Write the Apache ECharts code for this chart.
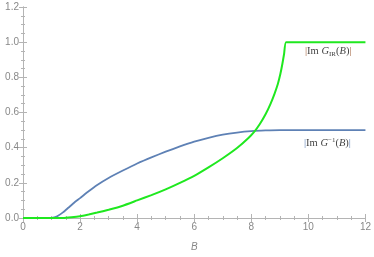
<!DOCTYPE html>
<html><head><meta charset="utf-8">
<script src="https://cdn.jsdelivr.net/npm/echarts@6/dist/echarts.min.js"></script>
<style>html,body{margin:0;padding:0;background:#fff}#c{width:374px;height:257px}</style>
</head><body><div id="c"></div>
<script>
const xTicks = [0, 2, 4, 6, 8, 10, 12];
const yTicks = [0.0, 0.2, 0.4, 0.6, 0.8, 1.0, 1.2];
const blueX = [0, 0.5, 1.0, 1.1, 1.2, 1.4, 1.6, 1.8, 2.0, 2.3, 2.6, 3.0, 3.5, 4.0, 4.5, 5.0, 5.5, 6.0, 6.5, 7.0, 7.5, 8.0, 8.5, 9.0, 10, 11, 12];
const blueY = [0, 0, 0, 0.003, 0.01, 0.032, 0.06, 0.088, 0.113, 0.152, 0.188, 0.228, 0.27, 0.31, 0.345, 0.377, 0.407, 0.434, 0.456, 0.474, 0.486, 0.494, 0.498, 0.5, 0.5, 0.5, 0.5];
const greenX = [0, 1.0, 1.4, 1.7, 2.0, 2.3, 2.6, 3.0, 3.5, 4.0, 4.5, 5.0, 5.5, 6.0, 6.5, 7.0, 7.5, 7.9, 8.1, 8.3, 8.5, 8.67, 8.81, 8.93, 9.02, 9.09, 9.15, 9.22, 10, 11, 12];
const greenY = [0, 0, 0, 0.004, 0.01, 0.02, 0.031, 0.047, 0.07, 0.1, 0.13, 0.163, 0.2, 0.24, 0.288, 0.34, 0.398, 0.455, 0.49, 0.535, 0.59, 0.648, 0.705, 0.762, 0.82, 0.877, 0.934, 1.0, 1.0, 1.0, 1.0];
const labelIR = '|Im G_IR(B)|';
const labelInv = '|Im G^-1(B)|';

const frame = '#b4b4b4';
const tickCol = '#888888';
const chart = echarts.init(document.getElementById('c'));
function axisCommon(showLabel, fmt) {
  return {
    axisLine: {show: true, lineStyle: {color: frame, width: 1}},
    axisTick: {show: true, inside: true, length: 4, lineStyle: {color: frame}},
    minorTick: {show: true, splitNumber: 4, length: 2, lineStyle: {color: frame}},
    splitLine: {show: false},
    axisLabel: {show: showLabel, color: tickCol, fontSize: 10, fontFamily: 'Liberation Sans', formatter: fmt, margin: 4}
  };
}
const xStep = xTicks[1] - xTicks[0];
const yStep = +(yTicks[1] - yTicks[0]).toFixed(2);
chart.setOption({
  animation: false,
  grid: {left: 23, right: 6, top: 7, bottom: 37},
  xAxis: [
    Object.assign({type: 'value', position: 'bottom', min: xTicks[0], max: xTicks[xTicks.length-1], interval: xStep,
      name: 'B', nameLocation: 'middle', nameGap: 24,
      nameTextStyle: {color: tickCol, fontStyle: 'italic', fontSize: 10, fontFamily: 'Liberation Sans'}},
      axisCommon(true, v => String(v))),
    Object.assign({type: 'value', position: 'top', min: xTicks[0], max: xTicks[xTicks.length-1], interval: xStep},
      axisCommon(false))
  ],
  yAxis: [
    Object.assign({type: 'value', position: 'left', min: yTicks[0], max: yTicks[yTicks.length-1], interval: yStep},
      axisCommon(true, v => v.toFixed(1))),
    Object.assign({type: 'value', position: 'right', min: yTicks[0], max: yTicks[yTicks.length-1], interval: yStep},
      axisCommon(false))
  ],
  series: [
    {type: 'line', name: labelInv, data: blueX.map((x, i) => [x, blueY[i]]), smooth: 0.15, showSymbol: false,
      lineStyle: {color: '#5e81b5', width: 1.8}, z: 3},
    {type: 'line', name: labelIR, data: greenX.map((x, i) => [x, greenY[i]]), smooth: 0.15, showSymbol: false,
      lineStyle: {color: '#1fe81f', width: 2}, z: 4}
  ],
  graphic: [
    {type: 'text', left: 305, top: 46, style: {
      text: '{b||}{t|Im }{i|G}{s|IR}{t|(}{i|B}{t|)}{b||}',
      rich: {
        b: {fontSize: 10.5, fontFamily: 'Liberation Serif', fill: '#a0603a'},
        t: {fontSize: 10.5, fontFamily: 'Liberation Serif', fill: '#444'},
        i: {fontSize: 10.5, fontFamily: 'Liberation Serif', fontStyle: 'italic', fill: '#444'},
        s: {fontSize: 7, fontFamily: 'Liberation Serif', fill: '#444', padding: [5, 0, 0, 0]}
      }}},
    {type: 'text', left: 304, top: 137, style: {
      text: '{b||}{t|Im }{i|G}{p|−1}{t|(}{i|B}{t|)}{b||}',
      rich: {
        b: {fontSize: 10.5, fontFamily: 'Liberation Serif', fill: '#5e81b5'},
        t: {fontSize: 10.5, fontFamily: 'Liberation Serif', fill: '#444'},
        i: {fontSize: 10.5, fontFamily: 'Liberation Serif', fontStyle: 'italic', fill: '#444'},
        p: {fontSize: 7, fontFamily: 'Liberation Serif', fill: '#444', padding: [0, 0, 5, 0]}
      }}}
  ]
});
</script></body></html>
